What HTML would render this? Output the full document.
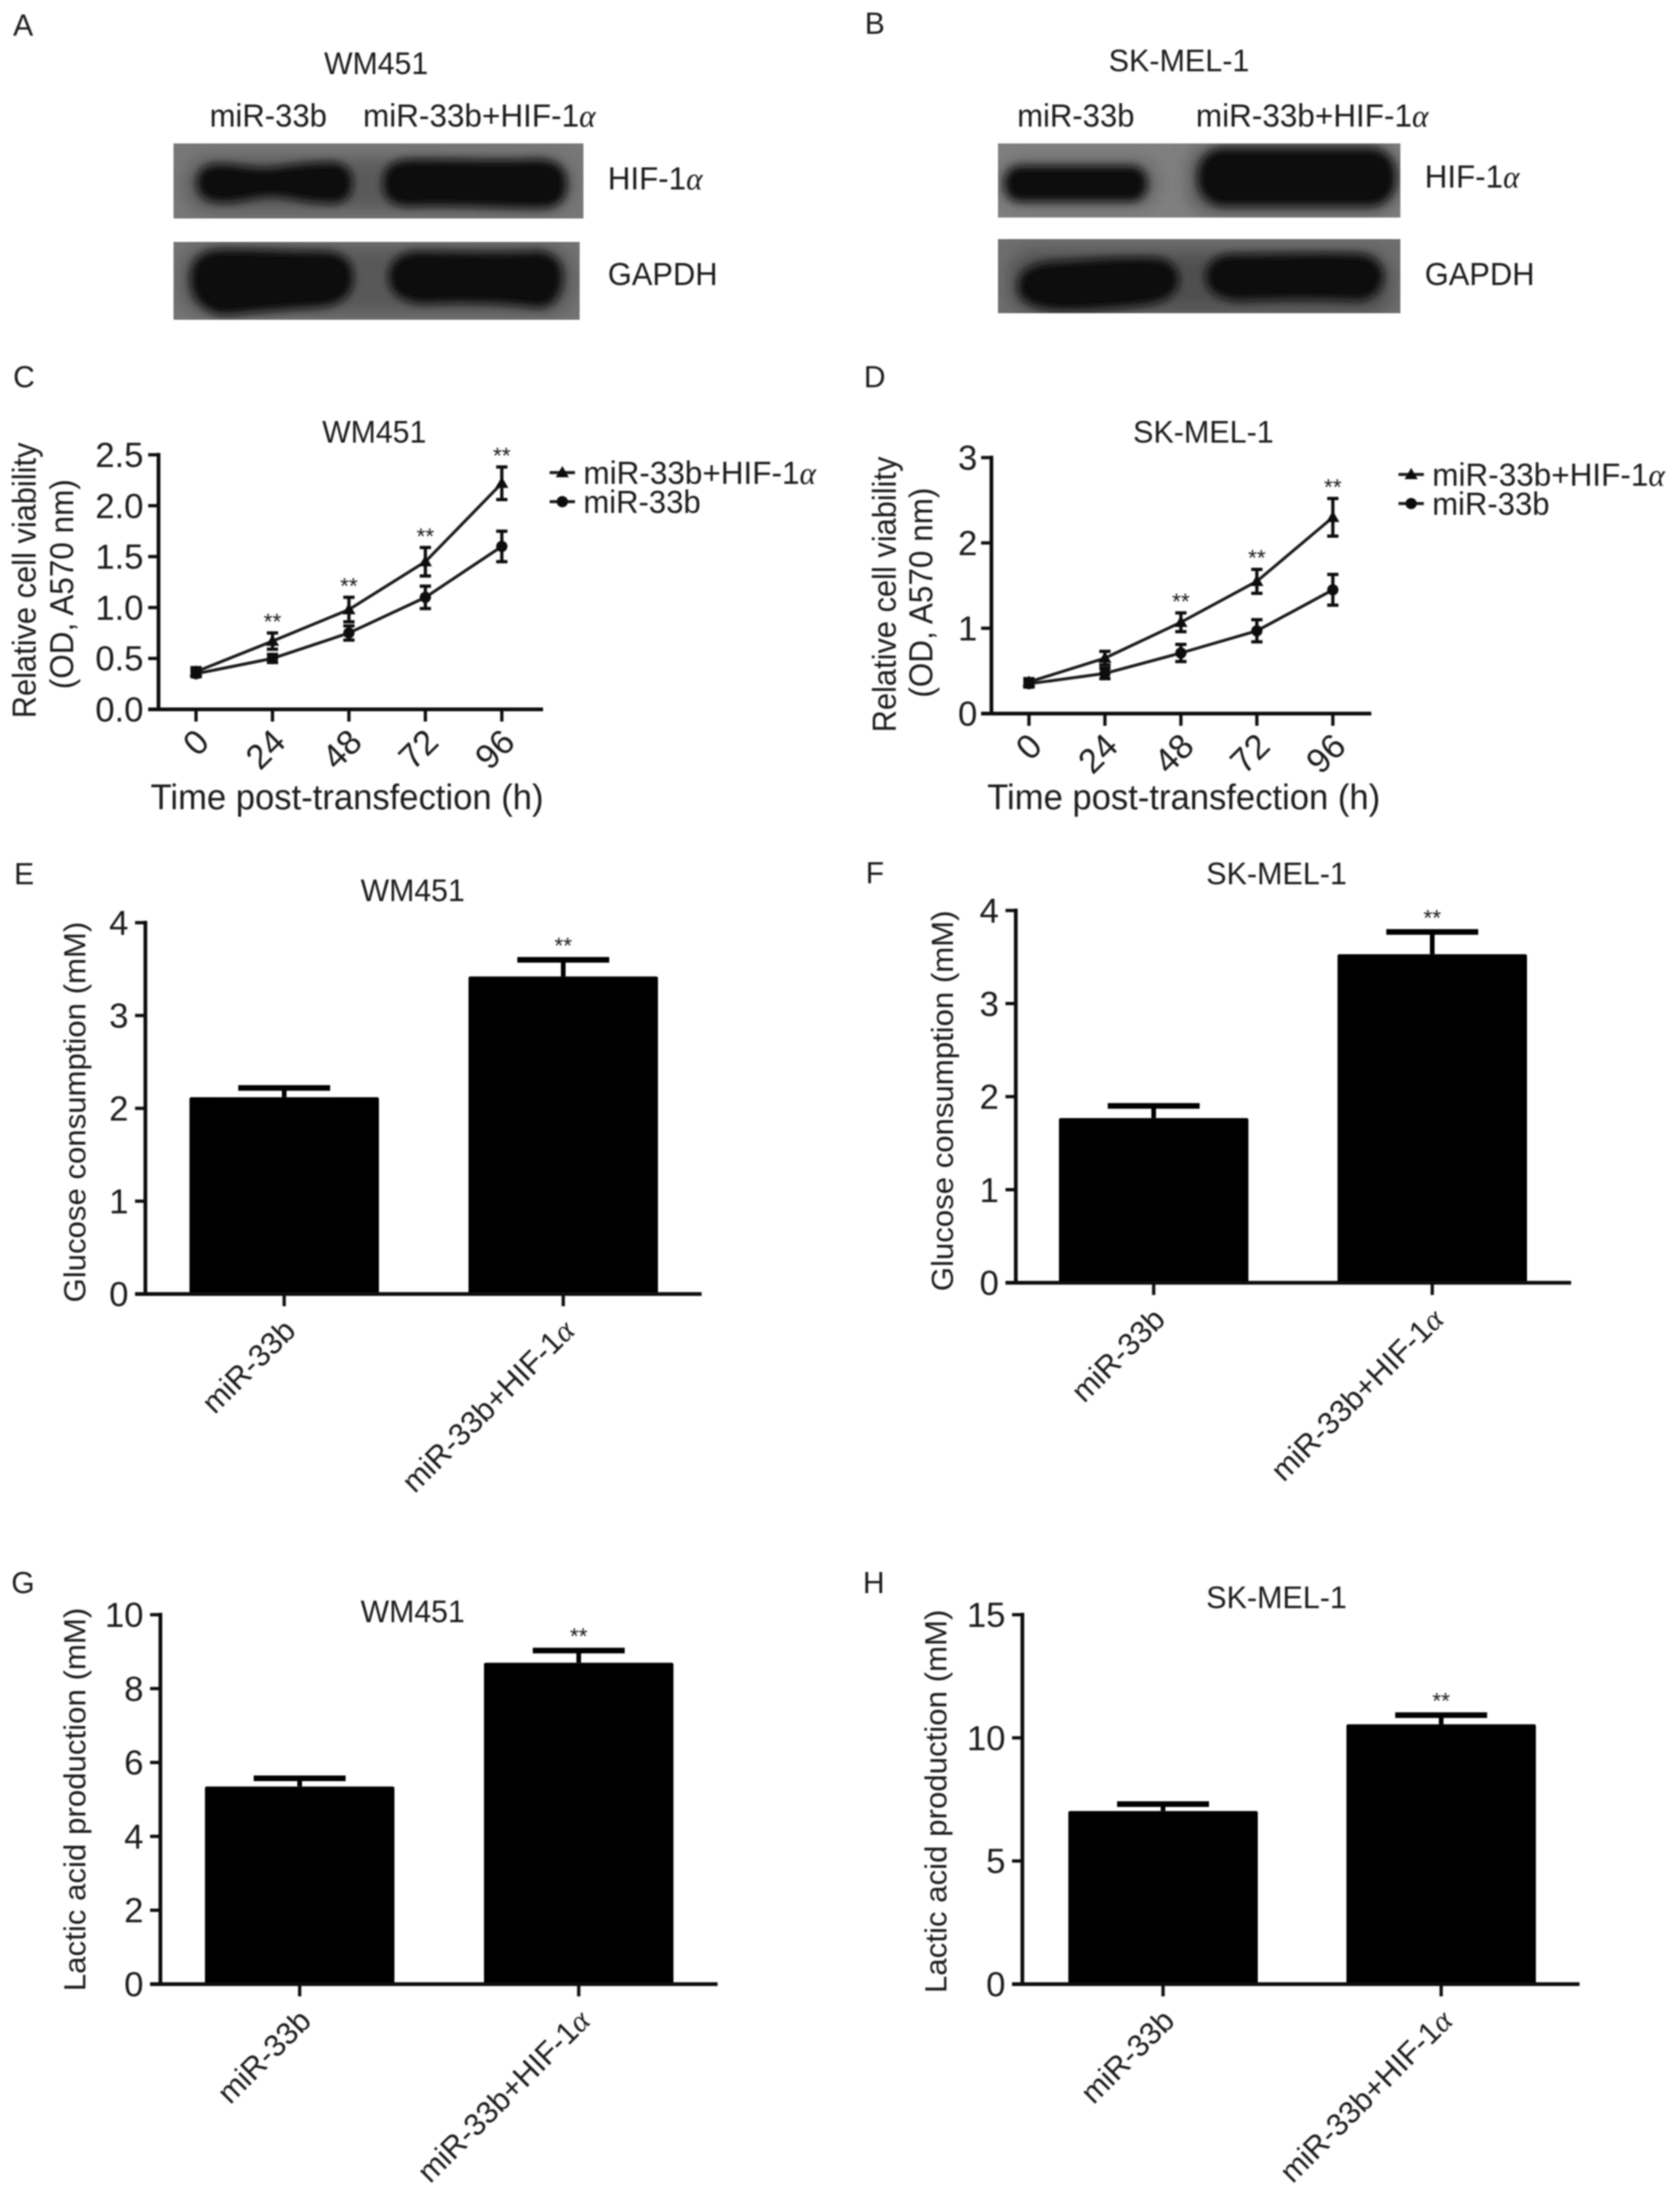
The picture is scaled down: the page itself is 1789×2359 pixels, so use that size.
<!DOCTYPE html>
<html lang="en">
<head>
<meta charset="utf-8">
<title>miR-33b and HIF-1α figure</title>
<style>
html,body{margin:0;padding:0;background:#fff;}
svg{display:block;}
text{font-family:"Liberation Sans",sans-serif;fill:#1c1c1c;}
.a{font-family:"Liberation Serif",serif;font-style:italic;}
</style>
</head>
<body>
<svg id="fig" xmlns="http://www.w3.org/2000/svg" width="1789" height="2359" viewBox="0 0 1789 2359">
<defs>
<filter id="b1" x="-30%" y="-50%" width="160%" height="200%"><feGaussianBlur stdDeviation="4.5"/></filter>
<filter id="b2" x="-30%" y="-50%" width="160%" height="200%"><feGaussianBlur stdDeviation="9"/></filter>
<filter id="soft" x="-2%" y="-2%" width="104%" height="104%"><feGaussianBlur stdDeviation="0.8"/></filter>
<clipPath id="ca1"><rect x="185" y="153" width="437" height="80"/></clipPath>
<clipPath id="ca2"><rect x="185" y="258" width="433" height="83"/></clipPath>
<clipPath id="cb1"><rect x="1064" y="153" width="429" height="79"/></clipPath>
<clipPath id="cb2"><rect x="1064" y="255" width="429" height="79"/></clipPath>
</defs>
<rect width="1789" height="2359" fill="#fff"/>
<g id="plot" filter="url(#soft)">

<text x="14" y="38" font-size="32">A</text>
<text x="922" y="36" font-size="32">B</text>
<text x="14" y="413" font-size="32">C</text>
<text x="921" y="413" font-size="32">D</text>
<text x="15" y="943" font-size="32">E</text>
<text x="923" y="942" font-size="32">F</text>
<text x="12" y="1699" font-size="32">G</text>
<text x="920" y="1699" font-size="32">H</text>

<!-- Western blot A -->
<text x="401" y="79" font-size="33" text-anchor="middle" textLength="111" lengthAdjust="spacingAndGlyphs">WM451</text>
<text x="286" y="135" font-size="34" text-anchor="middle" textLength="125" lengthAdjust="spacingAndGlyphs">miR-33b</text>
<text x="387" y="135" font-size="34" textLength="248" lengthAdjust="spacingAndGlyphs">miR-33b+HIF-1<tspan class="a">α</tspan></text>
<g clip-path="url(#ca1)">
  <rect x="185" y="153" width="437" height="80" fill="#787878"/>
  <rect x="198" y="168" width="412" height="58" rx="26" fill="#5a5a5a" filter="url(#b2)"/>
  <path d="M210 195c0-14 10-20 24-20 20 0 34 5 52 4 18-1 34-6 68-6 14 1 22 8 22 22s-8 22-22 22c-30 0-50-8-68-7-18 1-32 7-52 6-14-1-24-7-24-21z" fill="#111" filter="url(#b1)"/>
  <path d="M408 196c0-20 12-26 34-26 50 0 90 2 130 0 20 0 32 8 32 26s-10 26-30 26c-40 0-90-4-134-2-22 1-32-8-32-24z" fill="#0f0f0f" filter="url(#b1)"/>
</g>
<g clip-path="url(#ca2)">
  <rect x="185" y="258" width="433" height="83" fill="#747474"/>
  <rect x="192" y="262" width="420" height="74" rx="30" fill="#585858" filter="url(#b2)"/>
  <path d="M203 298c0-22 12-32 36-32 40 0 70 2 104 2 22 0 34 10 34 28s-12 30-40 32c-32 2-56 4-76 6-16 2-24 3-32 0-16-6-26-18-26-36z" fill="#0f0f0f" filter="url(#b1)"/>
  <path d="M414 296c0-18 14-28 32-28 40 0 80 2 120 0 20-2 34 8 34 26s-8 36-30 34c-30-4-70-6-110-4-28 2-46-10-46-28z" fill="#0f0f0f" filter="url(#b1)"/>
</g>
<text x="648" y="202" font-size="34" textLength="101" lengthAdjust="spacingAndGlyphs">HIF-1<tspan class="a">α</tspan></text>
<text x="648" y="304" font-size="34" textLength="117" lengthAdjust="spacingAndGlyphs">GAPDH</text>

<!-- Western blot B -->
<text x="1257" y="76" font-size="33" text-anchor="middle" textLength="150" lengthAdjust="spacingAndGlyphs">SK-MEL-1</text>
<text x="1147" y="135" font-size="34" text-anchor="middle" textLength="125" lengthAdjust="spacingAndGlyphs">miR-33b</text>
<text x="1275" y="135" font-size="34" textLength="248" lengthAdjust="spacingAndGlyphs">miR-33b+HIF-1<tspan class="a">α</tspan></text>
<g clip-path="url(#cb1)">
  <rect x="1064" y="153" width="429" height="79" fill="#808080"/>
  <rect x="1065" y="170" width="170" height="50" rx="22" fill="#656565" filter="url(#b2)"/>
  <rect x="1266" y="153" width="226" height="76" rx="28" fill="#5c5c5c" filter="url(#b2)"/>
  <rect x="1071" y="177" width="152" height="38" rx="17" fill="#111" filter="url(#b1)"/>
  <rect x="1277" y="158" width="211" height="62" rx="28" fill="#0e0e0e" filter="url(#b1)"/>
</g>
<g clip-path="url(#cb2)">
  <rect x="1064" y="255" width="429" height="79" fill="#6e6e6e"/>
  <rect x="1076" y="268" width="408" height="66" rx="26" fill="#505050" filter="url(#b2)"/>
  <path d="M1085 306c0-16 14-25 36-27 40-2 80-6 112-4 16 2 24 12 24 24s-10 22-34 26c-30 4-60 6-88 6-28 0-50-8-50-25z" fill="#101010" filter="url(#b1)"/>
  <path d="M1285 296c0-14 10-25 30-25 50 0 100-2 136 0 16 2 24 14 24 24s-8 26-30 26c-30-2-84-2-120 0-24 0-40-10-40-25z" fill="#101010" filter="url(#b1)"/>
</g>
<text x="1519" y="200" font-size="34" textLength="101" lengthAdjust="spacingAndGlyphs">HIF-1<tspan class="a">α</tspan></text>
<text x="1519" y="304" font-size="34" textLength="117" lengthAdjust="spacingAndGlyphs">GAPDH</text>

<!-- Titles -->
<text x="399" y="472" font-size="33" text-anchor="middle" textLength="111" lengthAdjust="spacingAndGlyphs">WM451</text>
<text x="1283" y="472" font-size="33" text-anchor="middle" textLength="150" lengthAdjust="spacingAndGlyphs">SK-MEL-1</text>
<text x="440" y="961" font-size="33" text-anchor="middle" textLength="111" lengthAdjust="spacingAndGlyphs">WM451</text>
<text x="1361" y="943" font-size="33" text-anchor="middle" textLength="150" lengthAdjust="spacingAndGlyphs">SK-MEL-1</text>
<text x="440" y="1730" font-size="33" text-anchor="middle" textLength="111" lengthAdjust="spacingAndGlyphs">WM451</text>
<text x="1361" y="1715" font-size="33" text-anchor="middle" textLength="150" lengthAdjust="spacingAndGlyphs">SK-MEL-1</text>

<!-- Axis titles -->
<text transform="translate(38,619) rotate(-90)" font-size="35" text-anchor="middle" textLength="294" lengthAdjust="spacingAndGlyphs">Relative cell viability</text>
<text transform="translate(78,623) rotate(-90)" font-size="35" text-anchor="middle" textLength="224" lengthAdjust="spacingAndGlyphs">(OD, A570 nm)</text>
<text x="370" y="863" font-size="38" text-anchor="middle" textLength="419" lengthAdjust="spacingAndGlyphs">Time post-transfection (h)</text>
<text transform="translate(955,634) rotate(-90)" font-size="35" text-anchor="middle" textLength="294" lengthAdjust="spacingAndGlyphs">Relative cell viability</text>
<text transform="translate(994,632) rotate(-90)" font-size="35" text-anchor="middle" textLength="224" lengthAdjust="spacingAndGlyphs">(OD, A570 nm)</text>
<text x="1262" y="863" font-size="38" text-anchor="middle" textLength="419" lengthAdjust="spacingAndGlyphs">Time post-transfection (h)</text>
<text transform="translate(91,1186) rotate(-90)" font-size="32" text-anchor="middle" textLength="406" lengthAdjust="spacingAndGlyphs">Glucose consumption (mM)</text>
<text transform="translate(1016,1174) rotate(-90)" font-size="32" text-anchor="middle" textLength="406" lengthAdjust="spacingAndGlyphs">Glucose consumption (mM)</text>
<text transform="translate(91,1919) rotate(-90)" font-size="32" text-anchor="middle" textLength="409" lengthAdjust="spacingAndGlyphs">Lactic acid production (mM)</text>
<text transform="translate(1009,1921) rotate(-90)" font-size="32" text-anchor="middle" textLength="409" lengthAdjust="spacingAndGlyphs">Lactic acid production (mM)</text>
</g>
</svg>
<script>
// ---- Chart C data ----
const cCategories = ['0', '24', '48', '72', '96'];
const cYTicks = ['0.0', '0.5', '1.0', '1.5', '2.0', '2.5'];
const cHifMeans = [0.37, 0.67, 0.98, 1.45, 2.22];
const cHifErrors = [0.04, 0.08, 0.12, 0.14, 0.16];
const cMirMeans = [0.35, 0.50, 0.75, 1.10, 1.60];
const cMirErrors = [0.03, 0.04, 0.07, 0.11, 0.15];
const cStarred = ['24', '48', '72', '96'];

// ---- Chart D data ----
const dCategories = ['0', '24', '48', '72', '96'];
const dYTicks = ['0', '1', '2', '3'];
const dHifMeans = [0.37, 0.65, 1.07, 1.55, 2.30];
const dHifErrors = [0.04, 0.08, 0.11, 0.14, 0.22];
const dMirMeans = [0.35, 0.47, 0.71, 0.97, 1.45];
const dMirErrors = [0.04, 0.06, 0.10, 0.13, 0.18];
const dStarred = ['48', '72', '96'];

const legendNames = ['miR-33b+HIF-1α', 'miR-33b'];

// ---- Bar chart data ----
const barCategories = ['miR-33b', 'miR-33b+HIF-1α'];
const eYTicks = ['0', '1', '2', '3', '4'];
const eMeans = [2.12, 3.42];
const eErrors = [0.10, 0.18];
const fYTicks = ['0', '1', '2', '3', '4'];
const fMeans = [1.77, 3.53];
const fErrors = [0.13, 0.24];
const gYTicks = ['0', '2', '4', '6', '8', '10'];
const gMeans = [5.35, 8.70];
const gErrors = [0.22, 0.33];
const hYTicks = ['0', '5', '10', '15'];
const hMeans = [7.03, 10.55];
const hErrors = [0.28, 0.37];

// ---- Frames (axis geometry only) ----
const frameC = {left: 169, right: 579, top: 485, bottom: 756.5, first: 209, step: 81.5, labelX: 153, legendX: 586, legendY: 504};
const frameD = {left: 1057, right: 1462, top: 488, bottom: 761, first: 1097, step: 81, labelX: 1042, legendX: 1491, legendY: 506};
const frameE = {left: 155, right: 748, top: 984, bottom: 1380, first: 303, step: 297.5, labelX: 137};
const frameF = {left: 1083, right: 1675, top: 971, bottom: 1368, first: 1230, step: 297, labelX: 1065};
const frameG = {left: 171, right: 765, top: 1722, bottom: 2116, first: 319.5, step: 297.5, labelX: 153};
const frameH = {left: 1090, right: 1684, top: 1722, bottom: 2116, first: 1240, step: 296.5, labelX: 1072};

const NS = 'http://www.w3.org/2000/svg';
const root = document.getElementById('plot');

function mk(tag, parent, geometry) {
  const node = document.createElementNS(NS, tag);
  for (const k in geometry) node.setAttribute(k, geometry[k]);
  parent.appendChild(node);
  return node;
}

function setLabel(node, str) {
  if (str.endsWith('α')) {
    node.textContent = str.slice(0, -1);
    const t = mk('tspan', node, {class: 'a'});
    
    
    t.textContent = 'α';
  } else {
    node.textContent = str;
  }
}

function scales(frame, ticks) {
  const max = Number(ticks[ticks.length - 1]);
  return {
    x: i => frame.first + i * frame.step,
    y: v => frame.bottom - (v / max) * (frame.bottom - frame.top)
  };
}

function drawAxes(group, frame, ticks, scale, cats, rotatedSize, labelDX, labelDY) {
  const yAxis = mk('line', group, {x1: frame.left, x2: frame.left, y1: frame.top - 2, y2: frame.bottom + 2, stroke: '#111', 'stroke-width': 4});
  
  
  const xAxis = mk('line', group, {x1: frame.left - 11, x2: frame.right, y1: frame.bottom, y2: frame.bottom, stroke: '#111', 'stroke-width': 4});
  
  
  ticks.forEach(label => {
    const y = scale.y(Number(label));
    const tick = mk('line', group, {x1: frame.left - 11, x2: frame.left, y1: y, y2: y, stroke: '#111', 'stroke-width': 3.5});
    
    
    const text = mk('text', group, {x: frame.labelX, y: y + 13, 'font-size': 37, 'text-anchor': 'end'});
    
    
    text.textContent = label;
  });
  cats.forEach((label, i) => {
    const x = scale.x(i);
    const tick = mk('line', group, {x1: x, x2: x, y1: frame.bottom, y2: frame.bottom + 13, stroke: '#111', 'stroke-width': 3.5});
    
    
    const ax = x + labelDX, ay = frame.bottom + labelDY;
    const text = mk('text', group, {transform: 'translate(' + ax + ',' + ay + ') rotate(-45)', 'font-size': rotatedSize, 'text-anchor': 'end'});
    
    
    setLabel(text, label);
  });
}

function drawStars(group, x, y) {
  const star = mk('text', group, {x: x, y: y + 14, 'font-size': 24, 'text-anchor': 'middle'});
  
  
  star.textContent = '**';
}

function drawMarker(group, kind, x, y) {
  let m;
  if (kind === 'triangle') {
    m = mk('path', group, {d: 'M' + x + ' ' + (y - 7) + 'l7 12h-14z', fill: '#111'});
  } else {
    m = mk('circle', group, {cx: x, cy: y, r: 6, fill: '#111'});
  }
  
  
}

function drawSeries(group, scale, means, errors, kind) {
  const pts = means.map((v, i) => scale.x(i) + ',' + scale.y(v)).join(' ');
  const line = mk('polyline', group, {points: pts, fill: 'none', stroke: '#1a1a1a', 'stroke-width': 3.2});
  
  
  means.forEach((v, i) => {
    const x = scale.x(i), hi = scale.y(v + errors[i]), lo = scale.y(v - errors[i]);
    const bar = mk('path', group, {d: 'M' + x + ' ' + hi + 'V' + lo + 'M' + (x - 6) + ' ' + hi + 'h12M' + (x - 6) + ' ' + lo + 'h12', fill: 'none', stroke: '#111', 'stroke-width': 3.5});
    
    
    drawMarker(group, kind, x, scale.y(v));
  });
}

function drawLegend(group, frame) {
  const kinds = ['triangle', 'circle'];
  legendNames.forEach((name, i) => {
    const y = frame.legendY + i * 31;
    const entry = mk('g', group, {});
    
    
    const sw = mk('line', entry, {x1: frame.legendX, x2: frame.legendX + 27, y1: y, y2: y, stroke: '#1a1a1a', 'stroke-width': 3.2});
    
    
    drawMarker(entry, kinds[i], frame.legendX + 13.5, y);
    const text = mk('text', entry, {x: frame.legendX + 36, y: y + 12, 'font-size': 34});
    
    
    text.setAttribute('textLength', name.length > 8 ? 248 : 125);
    text.setAttribute('lengthAdjust', 'spacingAndGlyphs');
    setLabel(text, name);
  });
}

function drawLineChart(frame, cats, ticks, hif, hifErr, mir, mirErr, starred) {
  const group = mk('g', root, {});
  
  
  const scale = scales(frame, ticks);
  drawAxes(group, frame, ticks, scale, cats, 37, 16, 37);
  drawSeries(group, scale, hif, hifErr, 'triangle');
  drawSeries(group, scale, mir, mirErr, 'circle');
  cats.forEach((c, i) => {
    if (starred.includes(c)) drawStars(group, scale.x(i), scale.y(hif[i] + hifErr[i]) - 18);
  });
  drawLegend(group, frame);
}

function drawBarChart(frame, ticks, means, errors) {
  const group = mk('g', root, {});
  
  
  const scale = scales(frame, ticks);
  means.forEach((v, i) => {
    const x = scale.x(i), top = scale.y(v), cap = scale.y(v + errors[i]);
    const bar = mk('rect', group, {x: x - 101, y: top, width: 202, height: frame.bottom - top, rx: 2, fill: '#000'});
    
    
    const stem = mk('line', group, {x1: x, x2: x, y1: top, y2: cap, stroke: '#000', 'stroke-width': 5});
    
    
    const capLine = mk('line', group, {x1: x - 49, x2: x + 49, y1: cap, y2: cap, stroke: '#000', 'stroke-width': 6});
    
    
  });
  drawAxes(group, frame, ticks, scale, barCategories, 33, 14, 41);
  drawStars(group, scale.x(1), scale.y(means[1] + errors[1]) - 21);
}

drawLineChart(frameC, cCategories, cYTicks, cHifMeans, cHifErrors, cMirMeans, cMirErrors, cStarred);
drawLineChart(frameD, dCategories, dYTicks, dHifMeans, dHifErrors, dMirMeans, dMirErrors, dStarred);
drawBarChart(frameE, eYTicks, eMeans, eErrors);
drawBarChart(frameF, fYTicks, fMeans, fErrors);
drawBarChart(frameG, gYTicks, gMeans, gErrors);
drawBarChart(frameH, hYTicks, hMeans, hErrors);
</script>
</body>
</html>
